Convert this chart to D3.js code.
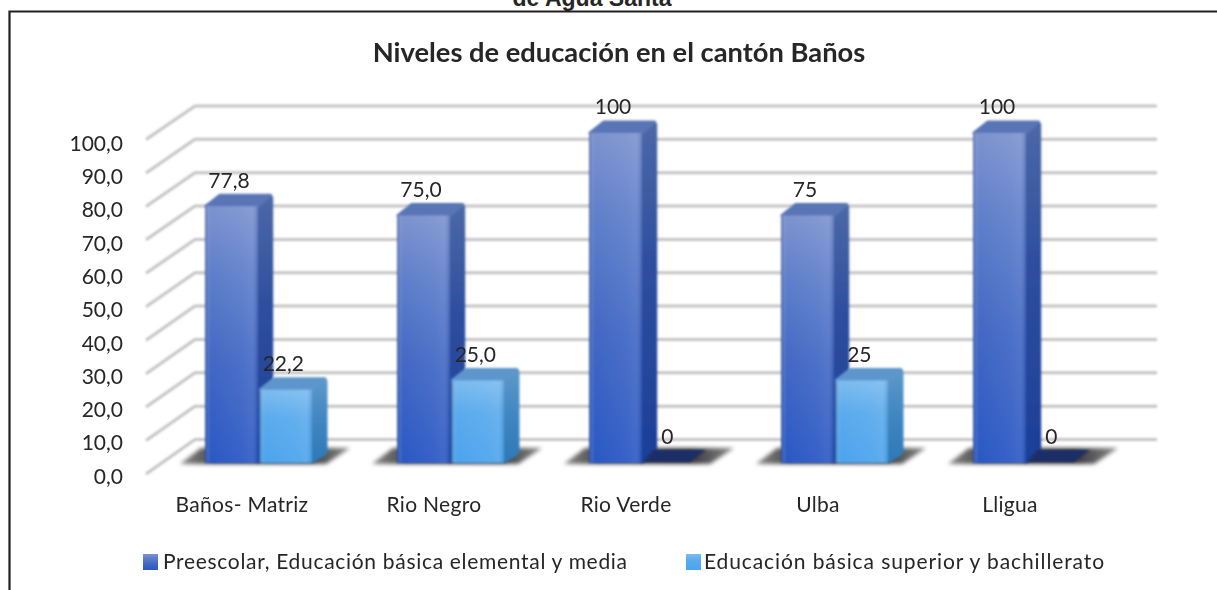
<!DOCTYPE html>
<html><head><meta charset="utf-8">
<script src="https://cdn.jsdelivr.net/npm/d3@7"></script>
<style>html,body{margin:0;padding:0;background:#fff;overflow:hidden}svg{display:block}text{fill:#262626}</style>
</head><body><svg id="c" width="1217" height="590"></svg>
<script>
const categories = ["Baños- Matriz","Rio Negro","Rio Verde","Ulba","Lligua"];
const seriesNames = ["Preescolar, Educación básica elemental y media","Educación básica superior y bachillerato"];
const seriesA = [77.8,75.0,100,75,100];
const seriesB = [22.2,25.0,0,25,0];
const labelsA = ["77,8","75,0","100","75","100"];
const labelsB = ["22,2","25,0","0","25","0"];
const yTicks = [0,10,20,30,40,50,60,70,80,90,100];
const chartTitle = "Niveles de educación en el cantón Baños";
const cutTitle = "de Agua Santa";

const W=1217,H=590,font="Lato, Carlito, sans-serif";
const svg=d3.select("#c");
const defs=svg.append("defs");
defs.append("filter").attr("id","soft").append("feGaussianBlur").attr("stdDeviation",0.8);
defs.append("filter").attr("id","txt").attr("x","-5%").attr("y","-20%").attr("width","110%").attr("height","140%").append("feGaussianBlur").attr("stdDeviation",0.3);
defs.append("filter").attr("id","soft2").attr("x","-20%").attr("y","-60%").attr("width","140%").attr("height","220%").append("feGaussianBlur").attr("stdDeviation",2.2);
function grad(id,stops,v=true){
  const g=defs.append("linearGradient").attr("id",id).attr("x1",0).attr("y1",0).attr("x2",v?0:1).attr("y2",v?1:0);
  stops.forEach(([o,c,a])=>g.append("stop").attr("offset",o).attr("stop-color",c).attr("stop-opacity",a===undefined?1:a));
}
const pal=[
 {front:"fA",side:"sA",top:"#5a74b6"},
 {front:"fB",side:"sB",top:"#5c96cc"}
];
grad("fA",[[0,"#7d93d0"],[0.25,"#5f7fca"],[0.6,"#4268c4"],[1,"#2a58c4"]]);
grad("sA",[[0,"#4c68a8"],[0.4,"#2f4f9f"],[1,"#1c3f98"]]);
grad("fB",[[0,"#7cbcf0"],[0.4,"#5aaaec"],[1,"#4ba4ee"]]);
grad("sB",[[0,"#5d98c8"],[0.5,"#3f86c2"],[1,"#2f78b8"]]);
grad("edge",[[0,"#1c2f70",0.45],[0.1,"#fff",0],[0.72,"#fff",0.06],[0.9,"#fff",0.1],[1,"#1c2f70",0.15]],false);
grad("floorS",[[0,"#8a8a8a"],[0.2,"#4a4a4a"],[0.75,"#3a3a3a"],[1,"#8a8a8a"]],false);

const x=d3.scaleBand().domain(categories).range([146,1106]);
const sx=d3.scaleBand().domain(seriesNames).range([59,59+107]).paddingInner(0.03);
const yBack=d3.scaleLinear().domain([0,100]).range([439.5,106]);
const yWall=d3.scaleLinear().domain([0,100]).range([474,139.5]);
const yBar=d3.scaleLinear().domain([0,100]).range([463,133]);
const yLab=d3.scaleLinear().domain([0,100]).range([476.5,143.5]);
const backLeft=195,backRight=1157,frontLeft=146,frontRight=1110;
const depthX=16,depthY=12;

// frame and clipped outer heading
svg.append("text").attr("x",592).attr("y",6).attr("text-anchor","middle").attr("font-family","Liberation Sans, Arial, sans-serif").attr("font-weight",700).attr("font-size",23).text(cutTitle);
svg.append("path").attr("d",`M9.5,${H} V11.5 H${W}`).attr("fill","none").attr("stroke","#231f20").attr("stroke-width",2.2);

svg.append("text").attr("filter","url(#txt)").attr("x",619).attr("y",62).attr("text-anchor","middle").attr("font-family",font).attr("font-weight",700).attr("font-size",27.3).text(chartTitle);

// grid
const grid=svg.append("g").attr("filter","url(#soft)").attr("fill","none").attr("stroke","#c4c4c4").attr("stroke-width",3);
grid.selectAll("path").data(yTicks).join("path")
  .attr("d",d=>`M${frontLeft},${yWall(d)} L${backLeft},${yBack(d)} H${backRight}`)
  .attr("stroke-linejoin","round");
svg.append("line").attr("filter","url(#soft)").attr("x1",frontLeft).attr("x2",frontRight).attr("y1",yWall(0)).attr("y2",yWall(0)).attr("stroke","#cdccd6").attr("stroke-width",3);

// y axis labels via axis
const ax=svg.append("g").attr("filter","url(#txt)").attr("transform","translate(123,0)").call(d3.axisLeft(yLab).tickValues(yTicks).tickSize(0).tickPadding(0).tickFormat(d=>d3.format(".1f")(d).replace(".",",")));
ax.select(".domain").remove();
ax.selectAll("text").attr("font-family",font).attr("font-size",21).style("fill","#262626");

// bars
const rows=categories.map((c,i)=>({c,vals:[seriesA[i],seriesB[i]],labs:[labelsA[i],labelsB[i]]}));
const plot=svg.append("g");
rows.forEach(r=>{
  const g=plot.append("g");
  const x0=x(r.c)+sx(seriesNames[0]), x1=x(r.c)+sx(seriesNames[1])+sx.bandwidth();
  const base=yBar(0);
  // floor shadow
  g.append("path").attr("filter","url(#soft2)").attr("fill","url(#floorS)")
   .attr("d",`M${x0-25},${base+1} L${x0-4},${base-15} H${x1+38} L${x1+14},${base+1} Z`);
  r.vals.forEach((v,k)=>{
    const xa=x(r.c)+sx(seriesNames[k]), w=sx.bandwidth(), yt=yBar(v), p=pal[k];
    const b=g.append("g").attr("filter","url(#soft)");
    if(v===0){
      b.append("path").attr("fill","#1e2f66").attr("d",`M${xa},${base-1} L${xa+depthX-6},${base-depthY-1} H${xa+w+depthX-6} L${xa+w-6},${base-1} Z`);
      return;
    }
    b.append("path").attr("fill",`url(#${p.side})`).attr("stroke",`url(#${p.side})`).attr("stroke-width",3).attr("stroke-linejoin","round")
      .attr("d",`M${xa+w},${yt+1} L${xa+w+depthX-2},${yt-depthY+3} V${base-depthY+2} L${xa+w},${base-1} Z`);
    b.append("path").attr("fill",p.top).attr("stroke",p.top).attr("stroke-width",3).attr("stroke-linejoin","round")
      .attr("d",`M${xa+1},${yt} L${xa+depthX-1},${yt-depthY+1} H${xa+w+depthX-3} L${xa+w},${yt} Z`);
    b.append("rect").attr("x",xa).attr("y",yt).attr("width",w).attr("height",base-yt).attr("fill",`url(#${p.front})`);
    b.append("rect").attr("x",xa).attr("y",yt).attr("width",w).attr("height",base-yt).attr("fill","url(#edge)");
  });
});
// value labels
rows.forEach(r=>{
  r.vals.forEach((v,k)=>{
    svg.append("text").attr("filter","url(#txt)").attr("x",x(r.c)+sx(seriesNames[k])+24).attr("y",yBar(v)-26).attr("dy",".35em")
      .attr("text-anchor","middle").attr("font-family",font).attr("font-size",21).text(r.labs[k]);
  });
});
// category labels
svg.selectAll(".cat").data(categories).join("text").attr("class","cat").attr("filter","url(#txt)")
  .attr("x",d=>x(d)+x.bandwidth()/2).attr("y",505).attr("dy",".35em").attr("text-anchor","middle")
  .attr("font-family",font).attr("font-size",21).attr("letter-spacing",0.3).text(d=>d);

// legend
const legX=d3.scaleOrdinal().domain(seriesNames).range([143,686]);
const legG=svg.selectAll(".leg").data(seriesNames).join("g").attr("class","leg").attr("transform",d=>`translate(${legX(d)},0)`);
legG.append("rect").attr("y",554).attr("width",15).attr("height",16).attr("fill",(d,i)=>`url(#${pal[i].front})`);
legG.append("text").attr("filter","url(#txt)").attr("x",(d,i)=>i?18:20).attr("y",562).attr("dy",".35em").attr("font-family",font).attr("font-size",21).attr("letter-spacing",(d,i)=>i?0.9:0.69).text(d=>d);
</script></body></html>
